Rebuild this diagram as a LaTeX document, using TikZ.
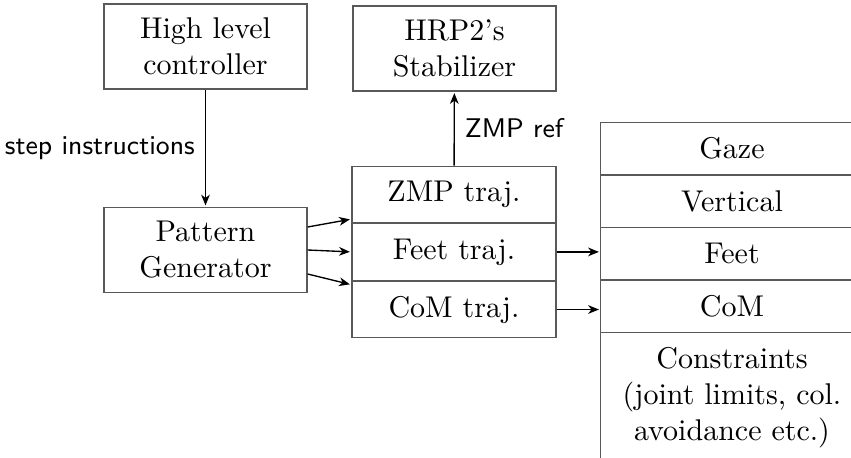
\documentclass[tikz,border=0pt]{standalone}
\usetikzlibrary{positioning,arrows.meta}
\begin{document}
\begin{tikzpicture}
    [x=0.3333pt, y=-0.3333pt,
    block/.style={draw=black!65, line width=0.4pt, align=center, inner sep=0pt, minimum width=67.7pt, minimum height=28.3pt},
    cell/.style={draw=black!65, line width=0.4pt, align=center, inner sep=0pt, minimum width=68pt, minimum height=18.8pt},
    task/.style={align=center, inner sep=0pt, minimum width=87.3pt, minimum height=17.1pt},
    frame/.style={draw=black!65, line width=0.45pt},
    arr/.style={-{Stealth[length=3.6pt, width=2.9pt, inset=1.1pt]}, line width=0.45pt, shorten >=0.5pt},
    lbl/.style={font=\sffamily\small}]

    \clip (0,0) rectangle (851,457);

    \node[block] (hlc) at (205.5,46.5) {High level\\controller};
    \node[block] (stab) at (454.5,48.5) {HRP2's\\Stabilizer};
    \node[block] (pg) at (205.5,250) {Pattern\\Generator};

    % trajectories
    \node[cell] (zmp) at (454,194.3) {ZMP traj.};
    \node[cell, below=0pt of zmp] (feet) {Feet traj.};
    \node[cell, below=0pt of feet] (com) {CoM traj.};

    % stack of tasks
    \node[task] (gaze) at (732,148.6) {Gaze};
    \node[task, below=0pt of gaze] (vert) {Vertical};
    \node[task, below=0pt of vert] (tfeet) {Feet};
    \node[task, below=0pt of tfeet] (tcom) {CoM};
    \node[task, below=0pt of tcom, minimum height=43pt] (cons) {Constraints\\(joint limits, col.\\avoidance etc.)};

    \draw[frame] (cons.south west) -- (gaze.north west);
    \foreach \t in {gaze,vert,tfeet,tcom,cons}
        \draw[frame] (\t.north west) -- (\t.north east);

    \draw[arr] (hlc) -- (pg) node[midway, left, lbl] {step instructions};
    \draw[arr] (zmp) -- (stab) node[midway, right, lbl] {ZMP ref};

    \draw[arr] ([yshift=7.67pt]pg.east) -- ([yshift=1.33pt]zmp.south west);
    \draw[arr] (pg.east) -- (feet.west);
    \draw[arr] ([yshift=-8pt]pg.east) -- ([yshift=-1.33pt]com.north west);
    \draw[arr] (feet.east) -- (feet.east -| tfeet.west);
    \draw[arr] (com.east) -- (com.east -| tcom.west);

\end{tikzpicture}
\end{document}
